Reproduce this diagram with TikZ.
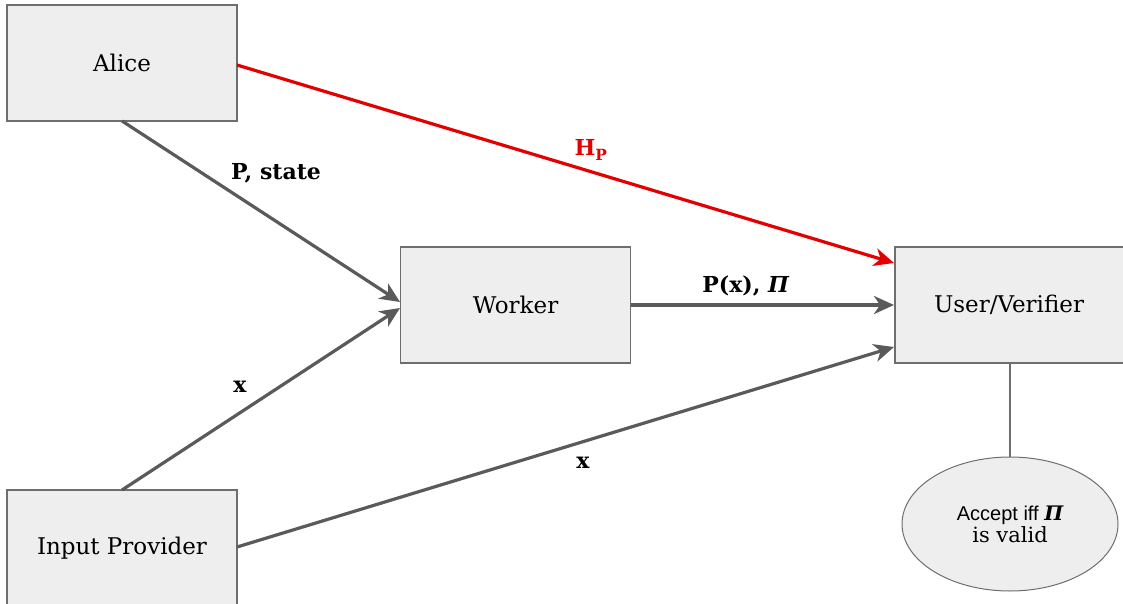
\documentclass[tikz,border=0pt]{standalone}
\usepackage{fontspec}
\setmainfont{DejaVu Serif}
\newfontfamily\sansf{Liberation Sans}
\usetikzlibrary{shapes.geometric,arrows.meta}
\definecolor{boxfill}{HTML}{EEEEEE}
\definecolor{boxline}{HTML}{6E6E6E}
\definecolor{conn}{HTML}{5A5A5A}
\definecolor{redc}{HTML}{E30000}
\tikzset{
  box/.style={draw=boxline, line width=1.3pt, fill=boxfill, minimum width=230pt, minimum height=116pt, font=\fontsize{23}{26}\selectfont, inner sep=0pt},
  conn/.style={draw=conn, line width=3.2pt, -{Stealth[length=20pt,width=18pt,inset=6pt]}},
  lbl/.style={font=\fontsize{22}{26}\selectfont\bfseries, text=black},
}
\begin{document}
\begin{tikzpicture}[x=1pt,y=-1pt]
\useasboundingbox (0,0) rectangle (1123,604);
\node[box] (alice) at (122,63) {Alice};
\node[box] (worker) at (515.5,305) {Worker};
\node[box, minimum width=240pt] (user) at (1015,305) {};
\node[font=\fontsize{23}{26}\selectfont] (usertext) at (1009,305) {User/Verifier};
\node[box, minimum height=130pt] (input) at (122,555) {};
\node[font=\fontsize{23}{26}\selectfont] (inputtext) at (122,548) {Input Provider};
\node[draw=boxline, line width=1pt, fill=boxfill, ellipse, minimum width=216pt, minimum height=134pt, align=center, inner sep=0pt] (acc) at (1010,524)
  {{\sansf\fontsize{20}{22}\selectfont Accept iff {\rmfamily\bfseries\itshape\fontsize{20}{22}\selectfont Π}}\\[1pt]{\fontsize{21}{22}\selectfont is valid}};
\coordinate (wA) at (400,302);
\coordinate (wB) at (400,308);
\coordinate (uA) at (894,263);
\coordinate (uB) at (894,305);
\coordinate (uC) at (894,347);
\coordinate (aB) at (122,121);
\coordinate (aR) at (237,65);
\coordinate (iT) at (122,490);
\coordinate (iR) at (237,547);
\draw[conn] (aB) -- (wA);
\draw[conn] (iT) -- (wB);
\draw[conn, draw=redc, color=redc] (aR) -- (uA);
\draw[conn] (worker.east) -- (uB);
\draw[conn] (iR) -- (uC);
\draw[draw=boxline, line width=1.2pt] (user.south -| acc.north) -- (acc.north);
\node[lbl] (l1) at (276,173) {P, state};
\node[lbl] (l2) at (240,387) {x};
\node[lbl, text=redc] (l3) at (591,150) {H\textsubscript{P}};
\node[lbl] (l4) at (746,286) {P(x), \textit{Π}};
\node[lbl] (l5) at (583,463) {x};
\end{tikzpicture}
\end{document}
